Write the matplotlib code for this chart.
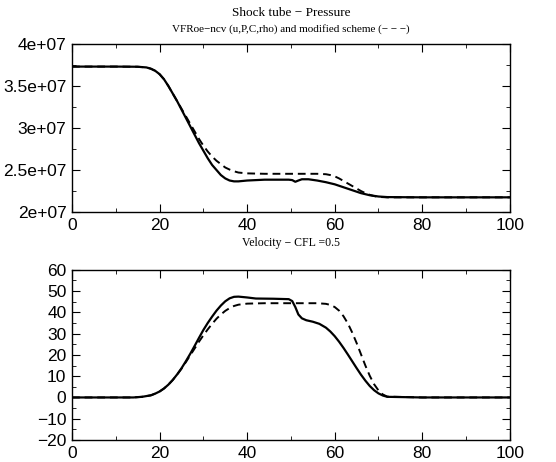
import matplotlib
matplotlib.use("Agg")
import matplotlib.pyplot as plt
from matplotlib.ticker import MultipleLocator, FuncFormatter

# pressure, solid = VFRoe-ncv, dashed = modified scheme
p_x = [0, 10, 15, 17, 18, 19, 20, 21, 22, 23, 24, 25, 26, 27, 28, 29, 30, 31, 32, 33, 34,
       35, 36, 37, 38, 40, 44, 49.5, 50.3, 51, 51.7, 52.5, 54, 56, 58, 60, 62, 64, 66, 68,
       70, 72, 80, 100]
p_solid = [3.73e7, 3.73e7, 3.728e7, 3.72e7, 3.705e7, 3.68e7, 3.64e7, 3.58e7, 3.50e7, 3.41e7,
           3.32e7, 3.22e7, 3.12e7, 3.02e7, 2.92e7, 2.82e7, 2.73e7, 2.64e7, 2.56e7, 2.50e7,
           2.44e7, 2.40e7, 2.375e7, 2.365e7, 2.365e7, 2.375e7, 2.385e7, 2.385e7, 2.38e7,
           2.36e7, 2.375e7, 2.39e7, 2.39e7, 2.375e7, 2.355e7, 2.33e7, 2.295e7, 2.26e7,
           2.225e7, 2.20e7, 2.185e7, 2.178e7, 2.175e7, 2.175e7]
pd_x = [0, 10, 15, 17, 18, 19, 20, 21, 22, 23, 24, 25, 26, 27, 28, 29, 30, 31, 32, 33, 34,
        35, 36, 37, 38, 40, 44, 50, 56, 58, 59, 60, 61, 62, 63, 64, 65, 66, 67, 68, 69, 70,
        72, 80, 100]
p_dash = [3.73e7, 3.73e7, 3.728e7, 3.72e7, 3.705e7, 3.68e7, 3.64e7, 3.58e7, 3.50e7, 3.41e7,
          3.32e7, 3.23e7, 3.14e7, 3.05e7, 2.96e7, 2.87e7, 2.79e7, 2.72e7, 2.66e7, 2.61e7,
          2.57e7, 2.53e7, 2.505e7, 2.485e7, 2.47e7, 2.46e7, 2.455e7, 2.455e7, 2.455e7,
          2.45e7, 2.44e7, 2.425e7, 2.40e7, 2.37e7, 2.34e7, 2.31e7, 2.28e7, 2.25e7, 2.225e7,
          2.205e7, 2.19e7, 2.18e7, 2.175e7, 2.175e7, 2.175e7]

# velocity
v_x = [0, 10, 14, 16, 18, 19, 20, 21, 22, 23, 24, 25, 26, 27, 28, 29, 30, 31, 32, 33, 34,
       35, 36, 37, 38, 40, 42, 46, 49.5, 50.3, 51, 51.7, 52.5, 53.5, 55, 56.5, 58, 59, 60,
       61, 62, 63, 64, 65, 66, 67, 68, 69, 70, 71, 72, 80, 100]
v_solid = [0, 0, 0, 0.3, 1.0, 1.8, 2.8, 4.2, 6.0, 8.2, 10.8, 13.7, 17.0, 20.5, 24.2, 28.0,
           31.7, 35.0, 38.0, 40.8, 43.2, 45.2, 46.6, 47.3, 47.4, 47.0, 46.5, 46.4, 46.2,
           45.3, 42.5, 39.0, 37.2, 36.3, 35.6, 34.6, 32.8, 31.0, 28.8, 26.2, 23.3, 20.2,
           17.0, 13.8, 10.7, 7.9, 5.4, 3.4, 1.9, 0.9, 0.3, 0, 0]
vd_x = [0, 10, 14, 16, 18, 19, 20, 21, 22, 23, 24, 25, 26, 27, 28, 29, 30, 31, 32, 33, 34,
        35, 36, 37, 38, 40, 44, 50, 56, 58, 59, 60, 61, 62, 63, 64, 65, 66, 67, 68, 69, 70,
        71, 72, 80, 100]
v_dash = [0, 0, 0, 0.3, 1.0, 1.8, 2.8, 4.2, 6.0, 8.2, 10.7, 13.5, 16.6, 19.8, 23.0, 26.2,
          29.2, 32.0, 34.6, 37.0, 39.0, 40.7, 42.0, 43.0, 43.6, 44.1, 44.3, 44.3, 44.3,
          44.0, 43.5, 42.5, 40.8, 38.2, 34.8, 30.5, 25.6, 20.3, 15.0, 10.2, 6.2, 3.3, 1.4,
          0.4, 0, 0]

plt.rcParams["font.family"] = ["Liberation Sans", "DejaVu Sans"]
fig = plt.figure(figsize=(5.56, 4.62), dpi=100)
ax1 = fig.add_axes([0.1295, 0.541, 0.7875, 0.364])
ax2 = fig.add_axes([0.1295, 0.0476, 0.7875, 0.3684])

ax1.plot(p_x, p_solid, color="black", lw=1.6)
ax1.plot(pd_x, p_dash, color="black", lw=1.4, ls=(0, (4, 2.5)))
ax1.set_ylim(2e7, 4e7)
ax1.yaxis.set_major_locator(MultipleLocator(5e6))
ax1.yaxis.set_minor_locator(MultipleLocator(2.5e6))
ax1.yaxis.set_major_formatter(FuncFormatter(lambda v, pos: "%ge+07" % (v / 1e7)))

ax2.plot(v_x, v_solid, color="black", lw=1.6)
ax2.plot(vd_x, v_dash, color="black", lw=1.4, ls=(0, (4, 2.5)))
ax2.set_ylim(-20, 60)
ax2.yaxis.set_major_locator(MultipleLocator(10))
ax2.yaxis.set_minor_locator(MultipleLocator(5))

for ax in (ax1, ax2):
    ax.set_xlim(0, 100)
    ax.xaxis.set_major_locator(MultipleLocator(20))
    ax.xaxis.set_minor_locator(MultipleLocator(10))
    ax.tick_params(which="both", direction="in", top=True, right=True, labelsize=12.5)
    ax.tick_params(which="major", length=6, pad=4)
    ax.tick_params(which="minor", length=3)
    for s in ax.spines.values():
        s.set_linewidth(1.0)

fig.text(0.523, 0.972, "Shock tube \u2212 Pressure", ha="center", va="center",
         family="Liberation Serif", fontsize=9.5)
fig.text(0.523, 0.938, "VFRoe\u2212ncv (u,P,C,rho) and modified scheme (\u2212 \u2212 \u2212)",
         ha="center", va="center", family="Liberation Serif", fontsize=8)
fig.text(0.523, 0.474, "Velocity \u2212 CFL =0.5", ha="center", va="center",
         family="Liberation Serif", fontsize=8.5)

fig.savefig("out.png", dpi=100)
